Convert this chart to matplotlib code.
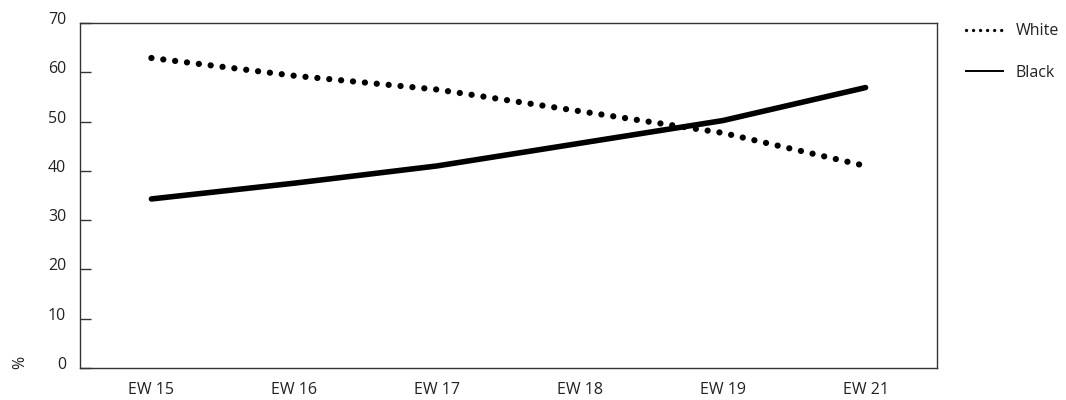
import matplotlib.pyplot as plt
from matplotlib import transforms
from matplotlib.lines import Line2D

weeks = ["EW 15", "EW 16", "EW 17", "EW 18", "EW 19", "EW 21"]
white = [62.9, 59.3, 56.5, 52.1, 47.7, 41.0]
black = [34.3, 37.5, 41.0, 45.6, 50.2, 56.9]
y_ticks = [0, 10, 20, 30, 40, 50, 60, 70]

plt.rcParams["font.family"] = ["Open Sans", "DejaVu Sans"]
text_color = "#222222"
fs = 11.5

fig = plt.figure(figsize=(10.66, 4.0), dpi=100)
ax = fig.add_axes([80 / 1066, 1 - 368 / 400, 857 / 1066, 345 / 400])

x = list(range(len(weeks)))
ax.plot(x, white, color="black", lw=4.5, linestyle=(0, (0.01, 1.9)),
        dash_capstyle="round", label="White")
ax.plot(x, black, color="black", lw=4.0, solid_capstyle="round",
        solid_joinstyle="round", label="Black")

ax.set_xlim(-0.5, 5.5)
ax.set_ylim(0, 70)
ax.set_yticks(y_ticks)
ax.set_xticks(x)
ax.set_xticklabels(weeks)

for s in ax.spines.values():
    s.set_color("#333333")
    s.set_linewidth(1.0)

ax.tick_params(axis="y", direction="in", length=8, width=1, color="#333333",
               labelsize=fs, labelcolor=text_color, pad=10)
ax.tick_params(axis="x", length=0, labelsize=fs, labelcolor=text_color, pad=10)

# labels sit a little above their ticks in the original
offset = transforms.ScaledTranslation(0, 5 / 100, fig.dpi_scale_trans)
for lab in ax.get_yticklabels():
    lab.set_transform(lab.get_transform() + offset)

fig.text(20 / 1066, 1 - 362 / 400, "%", rotation=90, ha="center", va="center",
         fontsize=fs, color=text_color)

handles = [
    Line2D([], [], color="black", lw=2.4, linestyle=(0, (0.01, 2.1)), dash_capstyle="round"),
    Line2D([], [], color="black", lw=1.4),
]
fig.legend(handles, ["White", "Black"], loc="upper left",
           bbox_to_anchor=(952 / 1066, 1 - 9 / 400), frameon=False,
           fontsize=fs, handlelength=2.3, handletextpad=0.8, labelspacing=1.6,
           labelcolor=text_color)

fig.savefig("out.png", dpi=100)
